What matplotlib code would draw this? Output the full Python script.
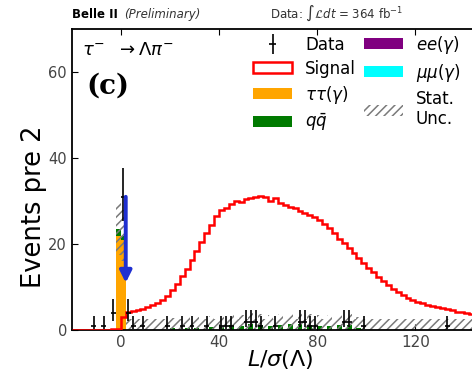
import math
import numpy as np
import matplotlib
matplotlib.use("Agg")
import matplotlib.pyplot as plt
from matplotlib.patches import Patch
from matplotlib.container import ErrorbarContainer
from matplotlib.legend_handler import HandlerErrorbar

# ---- binning: 2 units per bin ----
bin_lo, bin_hi, bin_w = -20, 150, 2
edges = np.arange(bin_lo, bin_hi + bin_w, bin_w)
centers = edges[:-1] + bin_w / 2

# ---- signal shape (per bin, from -20 to 150) ----
signal = [
    0.1, 0.1, 0.1, 0.1, 0.1, 0.1, 0.1, 0.1, 0.2, 0.3,      # -20 .. 0
    3.0, 4.3, 4.5, 4.6, 5.0, 5.3, 5.8, 6.3, 7.0, 8.0,      # 0 .. 20
    9.3, 10.8, 12.5, 14.3, 16.2, 18.5, 20.5, 22.5, 24.5, 26.5,  # 20 .. 40
    28.0, 28.5, 29.3, 30.0, 29.8, 30.5, 30.8, 31.0, 31.2, 31.0,  # 40 .. 60
    30.0, 30.8, 29.5, 29.0, 28.7, 28.3, 27.8, 27.2, 26.8, 26.3,  # 60 .. 80
    25.5, 24.6, 23.7, 22.5, 21.3, 20.2, 19.2, 18.0, 16.8, 15.6,  # 80 .. 100
    14.5, 13.4, 12.4, 11.4, 10.5, 9.6, 8.8, 8.1, 7.5, 7.0,      # 100 .. 120
    6.6, 6.2, 5.9, 5.6, 5.4, 5.2, 4.9, 4.6, 4.3, 4.1,          # 120 .. 140
    4.0, 3.8, 3.6, 3.4, 3.2,                                  # 140 .. 150
]

# ---- background components (bin centre -> events) ----
tautau_x = [-1, 1]
tautau_y = [22.0, 21.0]
qqbar_x = [-1, 1, 21, 27, 31, 37, 41, 45, 49, 53, 57, 61, 65, 69, 73, 77,
           81, 85, 89, 93, 97]
qqbar_y = [1.5, 1.0, 0.4, 0.5, 0.6, 0.7, 0.8, 1.2, 1.0, 1.4, 1.2, 1.0, 1.3,
           1.5, 1.4, 1.2, 1.0, 0.9, 1.1, 1.2, 0.6]
ee_x, ee_y = [], []
mumu_x, mumu_y = [], []

# statistical uncertainty on the total background (bin centre -> error)
unc_x = [-1, 1] + list(range(3, 150, 2))
unc_y = [6.0, 6.0] + [2.5] * len(range(3, 150, 2))

# ---- observed data (bin centre -> counts) ----
data_x = [-11, -7, -3, 1, 3, 5, 9, 19, 25, 29, 35, 41, 43, 45, 51, 53, 55,
          57, 63, 73, 75, 77, 79, 91, 93, 99, 133]
data_y = [1, 1, 4, 31, 4, 1, 1, 1, 1, 1, 1, 1, 1, 1, 2, 2, 2,
          1, 1, 2, 2, 1, 1, 2, 2, 1, 1]

# limit arrow
arrow_x, arrow_top, arrow_tip = 2, 31, 11


def to_bins(xs, ys):
    out = np.zeros(len(centers))
    for x, y in zip(xs, ys):
        out[int(np.argmin(np.abs(centers - x)))] = y
    return out


def poisson_cdf(k, mu):
    term = math.exp(-mu)
    s = term
    for i in range(1, k + 1):
        term *= mu / i
        s += term
    return s


def solve_decreasing(f, lo, hi):
    # bisection for a function that decreases in mu
    for _ in range(80):
        mid = 0.5 * (lo + hi)
        if f(mid) > 0:
            lo = mid
        else:
            hi = mid
    return 0.5 * (lo + hi)


def garwood(n, cl=0.6827):
    a = (1 - cl) / 2
    up = solve_decreasing(lambda mu: poisson_cdf(n, mu) - a, 0.0, n + 50.0)
    if n == 0:
        low = 0.0
    else:
        low = solve_decreasing(lambda mu: poisson_cdf(n - 1, mu) - (1 - a),
                               0.0, n + 50.0)
    return n - low, up - n


tt = to_bins(tautau_x, tautau_y)
qq = to_bins(qqbar_x, qqbar_y)
ee = to_bins(ee_x, ee_y)
mm = to_bins(mumu_x, mumu_y)
unc = to_bins(unc_x, unc_y)
total = tt + qq + ee + mm

c_tt, c_qq, c_ee, c_mm = "#ffa500", "#007a00", "#800080", "#00ffff"

fig = plt.figure(figsize=(4.72, 3.73), dpi=100)
ax = fig.add_axes([0.152, 0.115, 0.884, 0.807])

# stacked backgrounds
bottom = np.zeros(len(centers))
for vals, col in [(tt, c_tt), (qq, c_qq), (ee, c_ee), (mm, c_mm)]:
    ax.bar(centers, vals, width=bin_w, bottom=bottom, color=col,
           linewidth=0, zorder=1)
    bottom = bottom + vals

# stat. uncertainty band
plt.rcParams["hatch.linewidth"] = 1.1
mask = unc > 0
band_lo = np.clip(total - unc, 0, None)
band_hi = total + unc
ax.bar(centers[mask], (band_hi - band_lo)[mask], width=bin_w,
       bottom=band_lo[mask], facecolor="none", edgecolor="#7a7a7a",
       hatch="////", linewidth=0, zorder=2)

# signal
ax.stairs(signal, edges, color="red", linewidth=1.8, zorder=3)

# data
dx = np.array(data_x, dtype=float)
dy = np.array(data_y, dtype=float)
errs = np.array([garwood(int(n)) for n in data_y]).T
ax.errorbar(dx, dy, yerr=errs, xerr=bin_w / 2, fmt="none", ecolor="black",
            elinewidth=1.2, capsize=0, zorder=4)

# arrow marking the expected region
ax.annotate("", xy=(arrow_x, arrow_tip), xytext=(arrow_x, arrow_top),
            arrowprops=dict(arrowstyle="-|>,head_length=0.7,head_width=0.35",
                            color="#1f2fd0", lw=2.8, shrinkA=0, shrinkB=0),
            zorder=5)

ax.set_xlim(-20, 150)
ax.set_ylim(0, 70)
ax.set_xticks([0, 40, 80, 120])
ax.set_yticks([0, 20, 40, 60])
ax.tick_params(direction="in", top=True, right=True, length=4,
               labelsize=11, labelcolor="#444444")
ax.tick_params(axis="y", labelsize=10.5)
for s in ax.spines.values():
    s.set_linewidth(1.3)

ax.set_xlabel(r"$L/\sigma(\Lambda)$", fontsize=16)
ax.xaxis.set_label_coords(0.5, -0.06)
ax.set_ylabel("Events pre 2", fontsize=18.5)
ax.yaxis.set_label_coords(-0.06, 0.41)

ax.text(0.025, 0.93, r"$\tau^{-}\ \ \rightarrow \Lambda\pi^{-}$",
        transform=ax.transAxes, fontsize=13, va="center")
ax.text(0.035, 0.81, "(c)", transform=ax.transAxes, fontsize=20,
        fontweight="bold", family="DejaVu Serif", va="center")

fig.text(0.153, 0.952, "Belle II", fontsize=8.5, fontweight="bold")
fig.text(0.262, 0.952, "(Preliminary)", fontsize=8.5, style="italic",
         color="#333333")
fig.text(0.572, 0.952, r"Data: $\int\mathcal{L}dt$ = 364 fb$^{-1}$",
         fontsize=8.5, color="#333333")

# legend
h_data = ax.errorbar([], [], yerr=[], xerr=[], fmt="none", ecolor="black",
                     elinewidth=1.2)
handles = [h_data,
           Patch(facecolor="white", edgecolor="red", linewidth=1.8),
           Patch(facecolor=c_tt),
           Patch(facecolor=c_qq),
           Patch(facecolor=c_ee),
           Patch(facecolor=c_mm),
           Patch(facecolor="none", edgecolor="#7a7a7a", hatch="////",
                 linewidth=0)]
labels = ["Data", "Signal", r"$\tau\tau(\gamma)$", r"$q\bar{q}$",
          r"$ee(\gamma)$", r"$\mu\mu(\gamma)$", "Stat.\nUnc."]
fig.legend(handles, labels, ncol=2, loc="upper left",
           bbox_to_anchor=(0.505, 0.95), frameon=False, fontsize=12,
           handlelength=2.3, handleheight=0.65, labelspacing=0.36,
           columnspacing=0.5, handletextpad=0.8,
           handler_map={ErrorbarContainer: HandlerErrorbar(xerr_size=0.2,
                                                           yerr_size=0.6)})

fig.savefig("out.png", dpi=100)
